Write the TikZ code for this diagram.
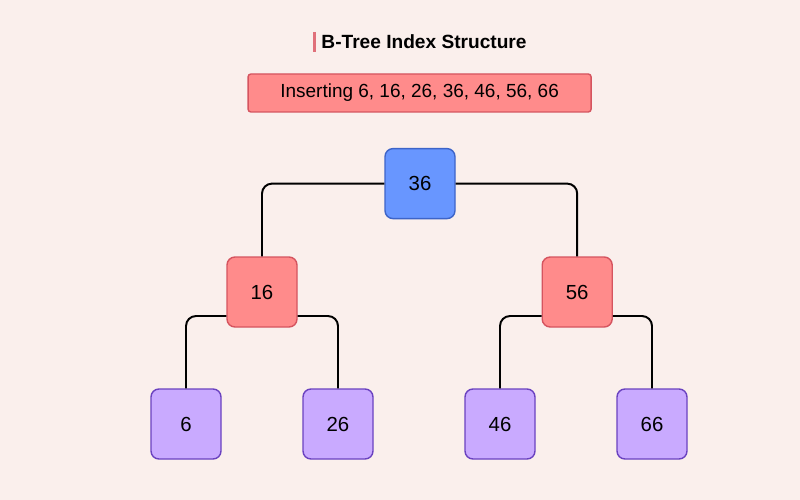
\documentclass[tikz,border=0pt]{standalone}
\usepackage{fontspec}
\setmainfont{Liberation Sans}
\definecolor{bgpink}{HTML}{FAEFEC}
\definecolor{rootfill}{HTML}{6896FF}
\definecolor{rootline}{HTML}{3D64C8}
\definecolor{midfill}{HTML}{FF8B8B}
\definecolor{midline}{HTML}{D5545F}
\definecolor{leaffill}{HTML}{C9AAFF}
\definecolor{leafline}{HTML}{6A42C0}
\definecolor{titlebar}{HTML}{E0707A}
\begin{document}
\begin{tikzpicture}[
    key/.style={draw, line width=1pt, rounded corners=0.2cm, minimum width=1.75cm, minimum height=1.75cm, font=\fontsize{14.5}{17}\selectfont},
    root/.style={key, fill=rootfill, draw=rootline},
    inner/.style={key, fill=midfill, draw=midline},
    leaf/.style={key, fill=leaffill, draw=leafline},
    link/.style={line width=1.4pt, rounded corners=0.25cm}
]
    % 背景
    \fill[bgpink] (0,0) rectangle (20,-12.5);
    \useasboundingbox (0,0) rectangle (20,-12.5);

    % 标题
    \node[font=\bfseries\fontsize{13.6}{16}\selectfont] (title) at (10.6,-1.05) {B-Tree Index Structure};
    \draw[titlebar, line width=2pt] ([xshift=-0.06cm,yshift=0.25cm]title.west) -- ([xshift=-0.06cm,yshift=-0.25cm]title.west);
    \node[draw=midline, fill=midfill, line width=1pt, rounded corners=0.07cm, minimum width=8.575cm, minimum height=0.95cm, font=\fontsize{13.5}{16}\selectfont] (insert) at (10.49,-2.325) {Inserting 6, 16, 26, 36, 46, 56, 66};

    % 节点
    \node[root] (n36) at (10.5,-4.59) {36};
    \node[inner] (n16) at (6.55,-7.3) {16};
    \node[inner] (n56) at (14.43,-7.3) {56};
    \node[leaf] (n6) at (4.65,-10.6) {6};
    \node[leaf] (n26) at (8.45,-10.6) {26};
    \node[leaf] (n46) at (12.5,-10.6) {46};
    \node[leaf] (n66) at (16.3,-10.6) {66};

    % 连线
    \draw[link] (n36.west) -| (n16.north);
    \draw[link] (n36.east) -| (n56.north);
    \draw[link] ([yshift=-0.6cm]n16.west) -| (n6.north);
    \draw[link] ([yshift=-0.6cm]n16.east) -| (n26.north);
    \draw[link] ([yshift=-0.6cm]n56.west) -| (n46.north);
    \draw[link] ([yshift=-0.6cm]n56.east) -| (n66.north);
\end{tikzpicture}
\end{document}
